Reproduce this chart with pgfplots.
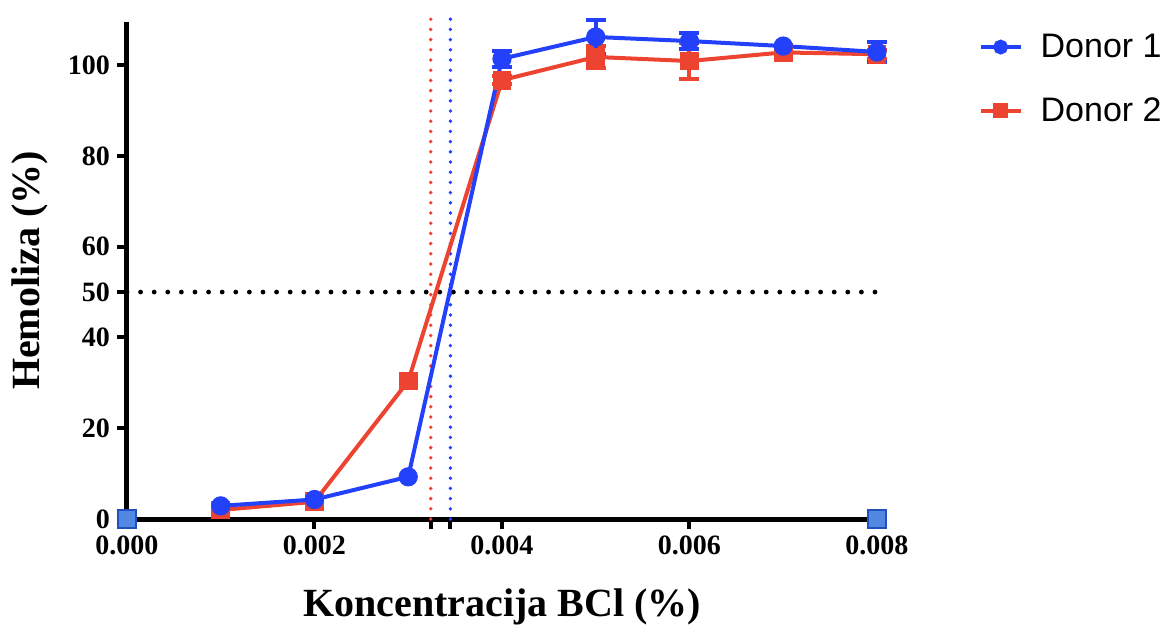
\documentclass[border=0pt]{standalone}
\usepackage{pgfplots}
\usepackage{pgfplotstable}
\pgfplotsset{compat=1.18}
\usepackage{fontspec}
\setmainfont{Liberation Serif}
\newfontfamily\legfont{Liberation Sans}

\definecolor{donorA}{RGB}{35,64,250}
\definecolor{donorB}{RGB}{236,68,48}
\definecolor{sqfill}{RGB}{82,136,226}
\definecolor{sqdraw}{RGB}{30,80,190}

% hemolysis (%) vs. BCl concentration (%), mean and error per point
\pgfplotstableread{
c      h
0.001  2.9
0.002  4.3
0.003  9.3
0.004  101.4
0.005  106.2
0.006  105.3
0.007  104.2
0.008  102.9
}\donorone
\pgfplotstableread{
c      h      e
0.004  101.4  1.8
0.005  106.2  3.8
0.006  105.3  1.8
0.008  102.9  2.2
}\donoroneerr
\pgfplotstableread{
c      h
0.001  2.0
0.002  3.8
0.003  30.4
0.004  96.7
0.005  101.8
0.006  100.9
0.007  102.8
0.008  102.4
}\donortwo
\pgfplotstableread{
c      h      e
0.004  96.7   0.8
0.005  101.8  2.4
0.006  100.9  4.0
0.008  102.4  1.0
}\donortwoerr

\begin{document}
\begin{tikzpicture}
\begin{axis}[
  scale only axis,
  width=375pt, height=248.5pt,
  xmin=0, xmax=0.008, ymin=0, ymax=109.5,
  scaled x ticks=false,
  axis x line*=bottom, axis y line*=left,
  axis line style={line width=2.5pt},
  xtick={0,0.002,0.00324,0.00345,0.004,0.006,0.008},
  xticklabels={0.000,0.002,,,0.004,0.006,0.008},
  ytick={0,20,40,50,60,80,100},
  yticklabels={0,20,40,50,60,80,100},
  tick align=outside,
  major tick length=5pt,
  every tick/.style={black, line width=2pt},
  tick label style={font=\bfseries\fontsize{14}{14}\selectfont},
  xlabel={Koncentracija BCl (\%)},
  ylabel={Hemoliza (\%)},
  label style={font=\bfseries\fontsize{20}{20}\selectfont},
  xlabel style={yshift=-10pt},
  ylabel style={yshift=3pt},
  clip=false,
  reverse legend,
  legend cell align=left,
  legend style={at={(rel axis cs:1.135,0.985)}, anchor=north west,
    draw=none, fill=none, inner sep=0pt, row sep=14.5pt,
    font=\legfont\fontsize{17}{17}\selectfont,
    /tikz/every odd column/.append style={column sep=7pt}},
  legend image code/.code={\draw[mark repeat=2, mark phase=2, #1, mark size=2.7pt]
    plot coordinates {(0pt,0pt) (10pt,0pt) (20pt,0pt)};},
]

% 50 % hemolysis level and the two crossing concentrations
\addplot[black, line width=2.4pt, line cap=round, dash pattern=on 0pt off 6.8pt, forget plot]
  coordinates {(0,50) (0.008,50)};
\addplot[donorB, line width=1.9pt, line cap=round, dash pattern=on 0pt off 5.1pt, forget plot]
  coordinates {(0.00324,0) (0.00324,110.3)};
\addplot[donorA, line width=1.9pt, line cap=round, dash pattern=on 0pt off 5.1pt, forget plot]
  coordinates {(0.00345,0) (0.00345,110.3)};

% Donor 2
\addplot[donorB, draw=none, mark=none, forget plot,
  error bars/.cd, y dir=both, y explicit,
  error bar style={line width=2pt, donorB},
  error mark options={rotate=90, mark size=5pt, line width=2pt, donorB}]
  table[x=c, y=h, y error=e] {\donortwoerr};
\addplot[donorB, line width=2pt, mark=square*, mark size=3.7pt, mark options={solid}]
  table[x=c, y=h] {\donortwo};
\addlegendentry{Donor 2}

% Donor 1
\addplot[donorA, draw=none, mark=none, forget plot,
  error bars/.cd, y dir=both, y explicit,
  error bar style={line width=2pt, donorA},
  error mark options={rotate=90, mark size=5pt, line width=2pt, donorA}]
  table[x=c, y=h, y error=e] {\donoroneerr};
\addplot[donorA, line width=2pt, mark=*, mark size=3.8pt, mark options={solid}]
  table[x=c, y=h] {\donorone};
\addlegendentry{Donor 1}

% range end markers on the concentration axis
\addplot[only marks, mark=square*, mark size=4.4pt,
  mark options={fill=sqfill, draw=sqdraw, line width=0.8pt}, forget plot]
  coordinates {(0,0) (0.008,0)};

% picture extent
\path (rel axis cs:-0.1693,-0.2113) (rel axis cs:1.392,1.0443);
\end{axis}
\end{tikzpicture}
\end{document}
